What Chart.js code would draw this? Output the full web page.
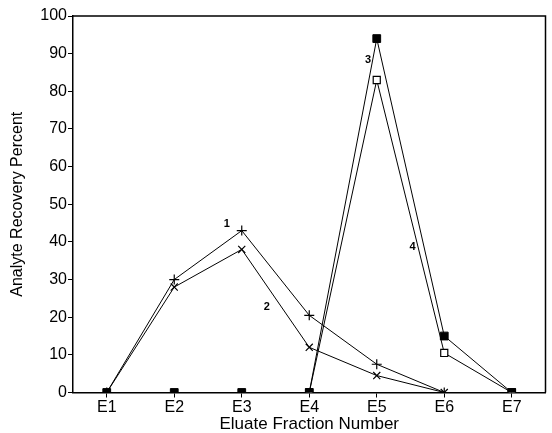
<!DOCTYPE html>
<html><head><meta charset="utf-8">
<script src="https://cdn.jsdelivr.net/npm/chart.js@4"></script>
<style>html,body{margin:0;padding:0;background:#fff}#wrap{width:552px;height:433px}</style>
</head><body><div id="wrap"><canvas id="c" width="552" height="433"></canvas></div>
<script>
const categories = ['E1','E2','E3','E4','E5','E6','E7'];
const series1 = [0, 30, 43, 20.5, 7.5, 0, null];
const series2 = [0, 28, 38, 12, 4.5, 0, null];
const series3 = [0, 0, 0, 0, 94, 15, 0];
const series4 = [null, null, null, 0, 83, 10.5, 0];
const yMin = 0, yMax = 100, yStep = 10;
const curveLabels = ['1', '2', '3', '4'];
const curveLabelX = [1.78, 2.37, 3.87, 4.53];
const curveLabelY = [44.7, 22.6, 88.3, 38.6];

const FONT = "'Liberation Sans', Arial, Helvetica, sans-serif";

const framePlugin = {
  id: 'frame',
  afterDraw(chart) {
    const {ctx, chartArea: a} = chart;
    ctx.save();
    ctx.strokeStyle = '#000';
    ctx.lineWidth = 1.5;
    ctx.beginPath();
    ctx.moveTo(a.left, a.top); ctx.lineTo(a.right, a.top); ctx.lineTo(a.right, a.bottom);
    ctx.stroke();
    ctx.restore();
  }
};
const labelPlugin = {
  id: 'curveLabels',
  afterDatasetsDraw(chart) {
    const {ctx, scales} = chart;
    ctx.save();
    ctx.fillStyle = '#000';
    ctx.font = 'bold 11px ' + FONT;
    ctx.textAlign = 'center';
    ctx.textBaseline = 'middle';
    curveLabels.forEach((t, i) => {
      ctx.fillText(t, scales.x.getPixelForValue(curveLabelX[i]), scales.y.getPixelForValue(curveLabelY[i]));
    });
    ctx.restore();
  }
};

const common = {borderColor: '#000', borderWidth: 1, pointBorderColor: '#000', tension: 0, spanGaps: false};
new Chart(document.getElementById('c'), {
  type: 'line',
  data: {
    labels: categories,
    datasets: [
      Object.assign({label: '3', data: series3, pointStyle: 'rect', pointRadius: 5.5, pointBackgroundColor: '#000', pointBorderWidth: 1}, common),
      Object.assign({label: '4', data: series4, pointStyle: 'rect', pointRadius: 5, pointBackgroundColor: '#fff', pointBorderWidth: 1.2}, common),
      Object.assign({label: '1', data: series1, pointStyle: 'cross', pointRadius: 5, pointBackgroundColor: '#000', pointBorderWidth: 1.2}, common),
      Object.assign({label: '2', data: series2, pointStyle: 'crossRot', pointRadius: 5, pointBackgroundColor: '#000', pointBorderWidth: 1.2}, common)
    ]
  },
  options: {
    responsive: false,
    animation: false,
    layout: {padding: {left: 0, top: 16, right: 3, bottom: 0}},
    plugins: {legend: {display: false}, tooltip: {enabled: false}},
    scales: {
      x: {
        type: 'category',
        offset: true,
        grid: {display: true, drawOnChartArea: false, drawTicks: true, tickLength: 5, color: '#000', offset: false},
        border: {display: true, color: '#000', width: 1.5},
        ticks: {color: '#000', font: {family: FONT, size: 16}, padding: 0, maxRotation: 0},
        title: {display: true, text: 'Eluate Fraction Number', color: '#000', font: {family: FONT, size: 17, lineHeight: 1}, padding: {top: 0, bottom: 0}},
        afterFit(s) { s.height = 40.5; }
      },
      y: {
        min: yMin, max: yMax,
        grid: {display: true, drawOnChartArea: false, drawTicks: true, tickLength: 5, color: '#000'},
        border: {display: true, color: '#000', width: 1.5},
        ticks: {stepSize: yStep, color: '#000', font: {family: FONT, size: 16}, padding: 1},
        title: {display: true, text: 'Analyte Recovery Percent', color: '#000', font: {family: FONT, size: 16}, padding: {top: 8, bottom: 0}},
        afterFit(s) { s.width = 73; }
      }
    }
  },
  plugins: [framePlugin, labelPlugin]
});
</script>
</body></html>
